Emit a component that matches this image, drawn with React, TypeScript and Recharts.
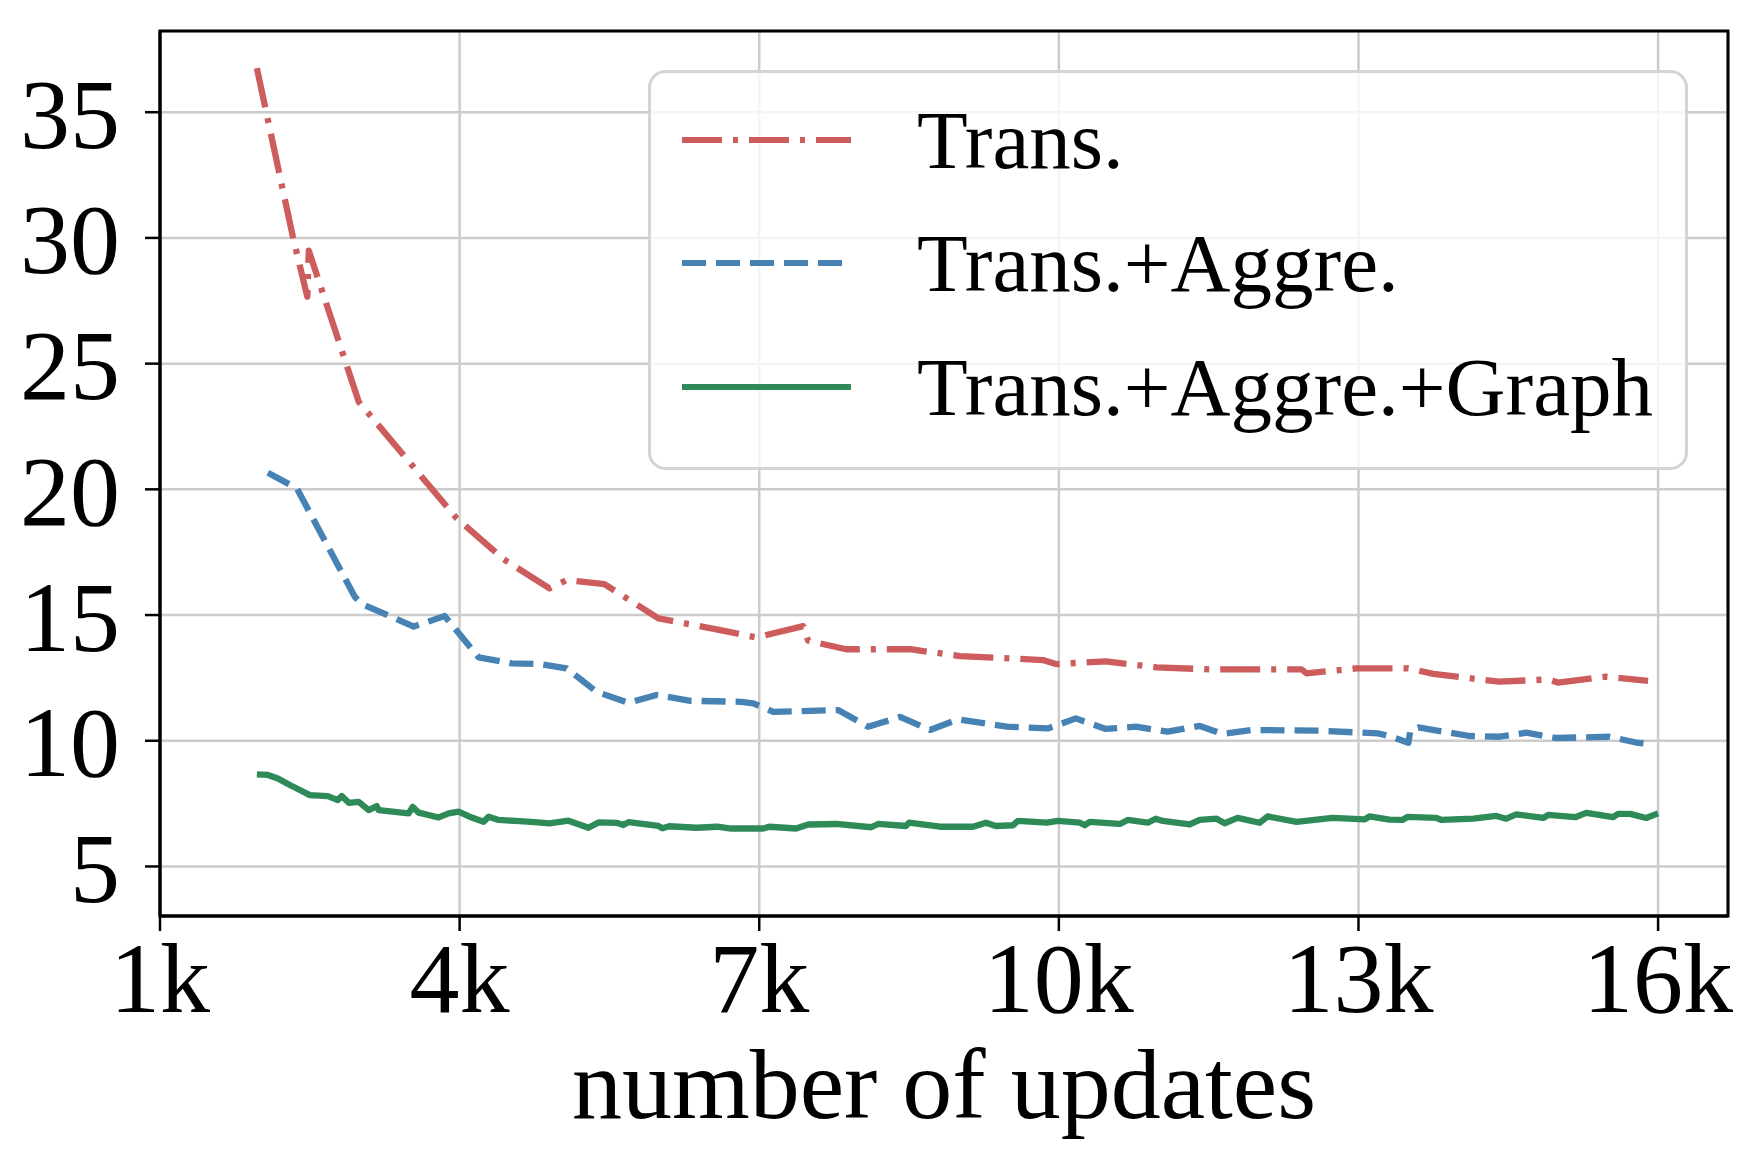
import React from "react";
import {
  LineChart,
  Line,
  XAxis,
  YAxis,
  CartesianGrid,
  Legend,
  Label,
  ReferenceArea,
} from "recharts";

// x in thousands of updates
const transX = [1.97, 2.33, 2.475, 2.49, 2.99, 3.97, 4.44, 4.9, 5.07, 5.45, 5.99, 6.61, 6.97, 7.44, 7.49, 7.87, 8.51, 9.01, 9.84, 9.97, 10.47, 10.98, 11.51, 12.43, 12.48, 12.98, 13.5, 13.75, 14.41, 14.91, 15.0, 15.48, 15.9];
const transY = [36.75, 30.05, 27.66, 29.49, 23.48, 18.85, 17.22, 16.06, 16.39, 16.23, 14.87, 14.4, 14.11, 14.56, 13.98, 13.64, 13.64, 13.37, 13.21, 13.05, 13.16, 12.92, 12.84, 12.84, 12.68, 12.88, 12.88, 12.66, 12.35, 12.44, 12.31, 12.55, 12.38];

const aggreX = [2.08, 2.37, 2.95, 3.02, 3.54, 3.85, 4.19, 4.52, 4.8, 5.07, 5.37, 5.69, 5.97, 6.31, 6.82, 6.94, 7.14, 7.79, 8.09, 8.41, 8.71, 8.99, 9.48, 9.89, 10.17, 10.47, 10.77, 11.09, 11.41, 11.64, 11.94, 12.61, 13.2, 13.33, 13.5, 13.52, 13.6, 14.11, 14.41, 14.68, 14.98, 15.51, 15.78, 15.88];
const aggreY = [20.66, 20.04, 15.73, 15.44, 14.54, 14.96, 13.32, 13.08, 13.05, 12.88, 11.95, 11.51, 11.82, 11.59, 11.55, 11.49, 11.15, 11.22, 10.56, 10.95, 10.43, 10.85, 10.56, 10.49, 10.89, 10.47, 10.56, 10.36, 10.59, 10.27, 10.43, 10.4, 10.29, 10.16, 9.92, 10.43, 10.53, 10.19, 10.16, 10.32, 10.11, 10.16, 9.93, 9.88];

const graphX = [1.97, 2.08, 2.18, 2.3, 2.4, 2.5, 2.68, 2.78, 2.82, 2.89, 2.99, 3.09, 3.17, 3.19, 3.49, 3.53, 3.59, 3.79, 3.89, 3.99, 4.1, 4.24, 4.29, 4.39, 4.6, 4.75, 4.9, 5.09, 5.29, 5.39, 5.58, 5.64, 5.69, 5.99, 6.03, 6.1, 6.37, 6.58, 6.72, 7.04, 7.1, 7.37, 7.49, 7.77, 8.12, 8.19, 8.47, 8.5, 8.81, 9.14, 9.27, 9.37, 9.54, 9.59, 9.88, 9.99, 10.21, 10.26, 10.31, 10.61, 10.69, 10.89, 10.97, 11.04, 11.31, 11.41, 11.58, 11.66, 11.79, 12.01, 12.09, 12.38, 12.74, 13.06, 13.11, 13.31, 13.44, 13.49, 13.78, 13.83, 14.15, 14.38, 14.48, 14.58, 14.85, 14.9, 15.17, 15.28, 15.55, 15.6, 15.72, 15.88, 16.0];
const graphY = [8.66, 8.64, 8.5, 8.24, 8.04, 7.84, 7.8, 7.64, 7.8, 7.53, 7.57, 7.24, 7.4, 7.24, 7.11, 7.37, 7.14, 6.95, 7.11, 7.18, 6.98, 6.78, 6.98, 6.85, 6.8, 6.76, 6.71, 6.82, 6.54, 6.75, 6.73, 6.65, 6.76, 6.61, 6.52, 6.6, 6.54, 6.58, 6.51, 6.51, 6.58, 6.51, 6.67, 6.69, 6.56, 6.69, 6.61, 6.74, 6.58, 6.58, 6.74, 6.61, 6.64, 6.81, 6.74, 6.81, 6.74, 6.64, 6.77, 6.69, 6.85, 6.74, 6.9, 6.81, 6.67, 6.85, 6.9, 6.72, 6.93, 6.74, 6.99, 6.77, 6.93, 6.87, 6.99, 6.86, 6.85, 6.97, 6.93, 6.85, 6.9, 7.01, 6.9, 7.07, 6.93, 7.05, 6.96, 7.13, 6.96, 7.09, 7.09, 6.93, 7.11];

const xTicks = [1, 4, 7, 10, 13, 16];
const yTicks = [5, 10, 15, 20, 25, 30, 35];

const FONT = "'Liberation Serif', 'Times New Roman', serif";

const series = [
  { name: "Trans.", color: "#CD5C5C", dash: "40 11 5 11", data: transX.map((x, i) => ({ x, y: transY[i] })) },
  { name: "Trans.+Aggre.", color: "#4682B4", dash: "24 10", data: aggreX.map((x, i) => ({ x, y: aggreY[i] })) },
  { name: "Trans.+Aggre.+Graph", color: "#2E8B57", dash: undefined, data: graphX.map((x, i) => ({ x, y: graphY[i] })) },
];

function LegendBox() {
  const rows = [70, 193, 317];
  return (
    <svg width={1040} height={400} style={{ display: "block" }}>
      <rect x={1.5} y={1.5} width={1037} height={397} rx={16} ry={16} fill="#ffffff" fillOpacity={0.8} stroke="#d4d4d4" strokeWidth={3} />
      {series.map((s, i) => (
        <g key={s.name}>
          <line x1={34} x2={203} y1={rows[i]} y2={rows[i]} stroke={s.color} strokeWidth={6} strokeDasharray={s.dash} />
          <text x={269} y={rows[i] + 28} fontSize={83} fontFamily={FONT} fill="#000">
            {s.name}
          </text>
        </g>
      ))}
    </svg>
  );
}

export default function App() {
  return (
    <div style={{ position: "absolute", left: 0, top: 0, width: 1762, height: 1170, background: "#fff" }}>
      <LineChart width={1762} height={1170} margin={{ top: 31, right: 34, bottom: 0, left: 0 }}>
        <CartesianGrid stroke="#cccccc" strokeWidth={2.5} />
        <XAxis
          type="number"
          dataKey="x"
          domain={[1, 16.7]}
          ticks={xTicks}
          allowDataOverflow
          tickFormatter={(v) => `${v}k`}
          height={254}
          tickSize={15}
          tickMargin={10}
          stroke="#000"
          strokeWidth={3}
          tickLine={{ stroke: "#000", strokeWidth: 2.5 }}
          tick={{ fontSize: 100, fill: "#000", fontFamily: FONT }}
        >
          <Label value="number of updates" position="insideBottom" offset={52} style={{ fontSize: 100, fill: "#000", fontFamily: FONT }} />
        </XAxis>
        <YAxis
          type="number"
          domain={[3.03, 38.23]}
          ticks={yTicks}
          allowDataOverflow
          width={160}
          tickSize={15}
          tickMargin={25}
          stroke="#000"
          strokeWidth={3}
          tickLine={{ stroke: "#000", strokeWidth: 2.5 }}
          tick={{ fontSize: 100, fill: "#000", fontFamily: FONT }}
        />
        <ReferenceArea x1={1} x2={16.7} y1={3.03} y2={38.23} fill="none" stroke="#000" strokeWidth={3} ifOverflow="visible" />
        {series.map((s) => (
          <Line
            key={s.name}
            data={s.data}
            dataKey="y"
            name={s.name}
            type="linear"
            stroke={s.color}
            strokeWidth={6.3}
            strokeDasharray={s.dash}
            strokeLinejoin="round"
            dot={false}
            activeDot={false}
            isAnimationActive={false}
          />
        ))}
        <Legend
          layout="horizontal"
          verticalAlign="middle"
          align="center"
          content={() => <LegendBox />}
          wrapperStyle={{ position: "absolute", left: 648, top: 70, width: 1040, height: 400 }}
        />
      </LineChart>
    </div>
  );
}
